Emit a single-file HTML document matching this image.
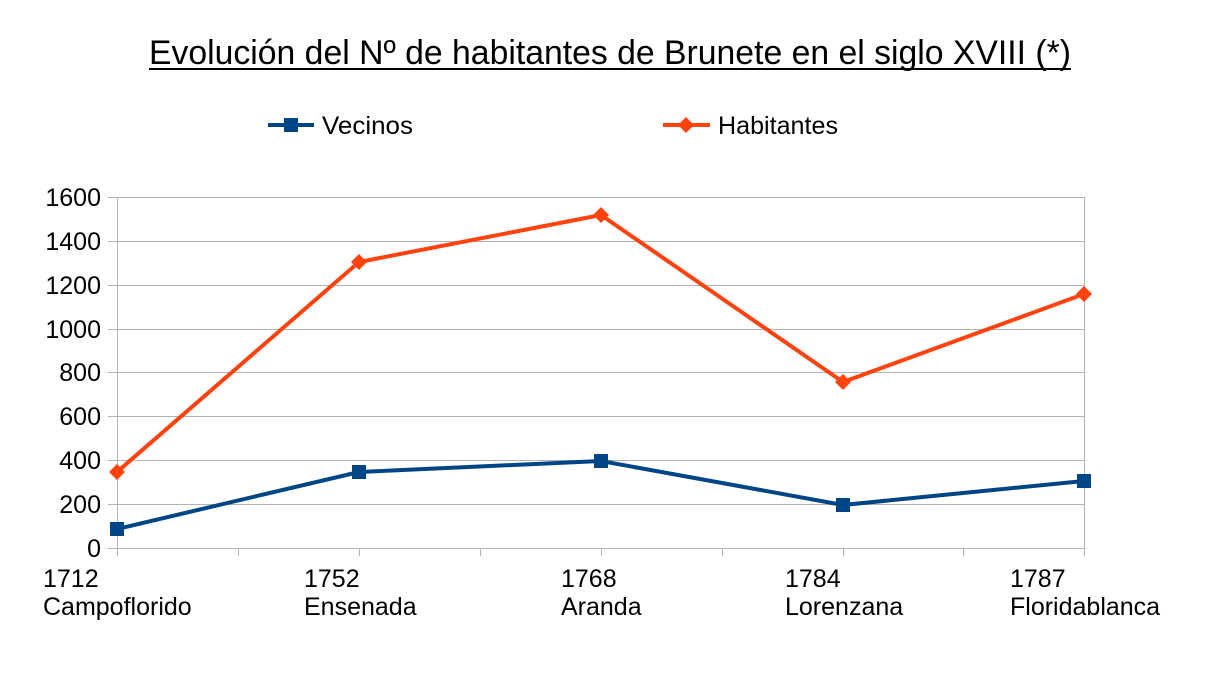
<!DOCTYPE html>
<html><head><meta charset="utf-8"><style>
body{margin:0;background:#fff;}
svg{display:block;font-family:"Liberation Sans",sans-serif;}
</style></head><body>
<svg width="1218" height="679" viewBox="0 0 1218 679">
<rect width="1218" height="679" fill="#fff"/>
<text x="149" y="64" font-size="34" textLength="922" lengthAdjust="spacingAndGlyphs" fill="#000">Evolución del Nº de habitantes de Brunete en el siglo XVIII (*)</text>
<line x1="149" y1="69" x2="1071" y2="69" stroke="#000" stroke-width="2"/>
<!-- legend -->
<line x1="268" y1="125" x2="314" y2="125" stroke="#004586" stroke-width="4"/>
<rect x="284" y="118" width="14" height="14" fill="#004586"/>
<text x="322" y="134" font-size="25" textLength="91" lengthAdjust="spacingAndGlyphs">Vecinos</text>
<line x1="663" y1="125" x2="710" y2="125" stroke="#ff420e" stroke-width="4"/>
<polygon points="686,117 694,125 686,133 678,125" fill="#ff420e"/>
<text x="718" y="134" font-size="25" textLength="120" lengthAdjust="spacingAndGlyphs">Habitantes</text>
<!-- grid -->
<g stroke="#b3b3b3" stroke-width="1">
<line x1="108" y1="197.5" x2="1084" y2="197.5"/>
<line x1="108" y1="241.5" x2="1084" y2="241.5"/>
<line x1="108" y1="285.5" x2="1084" y2="285.5"/>
<line x1="108" y1="329.5" x2="1084" y2="329.5"/>
<line x1="108" y1="372.5" x2="1084" y2="372.5"/>
<line x1="108" y1="416.5" x2="1084" y2="416.5"/>
<line x1="108" y1="460.5" x2="1084" y2="460.5"/>
<line x1="108" y1="504.5" x2="1084" y2="504.5"/>
<line x1="108" y1="548.5" x2="1084" y2="548.5"/>
<line x1="117.5" y1="197" x2="117.5" y2="556"/>
<line x1="1084.5" y1="197" x2="1084.5" y2="556"/>
<line x1="238.5" y1="548" x2="238.5" y2="556"/>
<line x1="359.5" y1="548" x2="359.5" y2="556"/>
<line x1="480.5" y1="548" x2="480.5" y2="556"/>
<line x1="601.5" y1="548" x2="601.5" y2="556"/>
<line x1="722.5" y1="548" x2="722.5" y2="556"/>
<line x1="843.5" y1="548" x2="843.5" y2="556"/>
<line x1="963.5" y1="548" x2="963.5" y2="556"/>
</g>
<g font-size="25" text-anchor="end">
<text x="101" y="206">1600</text>
<text x="101" y="250">1400</text>
<text x="101" y="294">1200</text>
<text x="101" y="338">1000</text>
<text x="101" y="381">800</text>
<text x="101" y="425">600</text>
<text x="101" y="469">400</text>
<text x="101" y="513">200</text>
<text x="101" y="557">0</text>
</g>
<g font-size="25">
<text x="43" y="587">1712</text><text x="43" y="615">Campoflorido</text>
<text x="304" y="587">1752</text><text x="304" y="615">Ensenada</text>
<text x="561" y="587">1768</text><text x="561" y="615">Aranda</text>
<text x="785" y="587">1784</text><text x="785" y="615">Lorenzana</text>
<text x="1010" y="587">1787</text><text x="1010" y="615">Floridablanca</text>
</g>
<polyline points="117,472 359,262 601,215 843,382 1084,294" fill="none" stroke="#ff420e" stroke-width="4" stroke-linejoin="round"/>
<g fill="#ff420e">
<polygon points="117,464 125,472 117,480 109,472"/>
<polygon points="359,254 367,262 359,270 351,262"/>
<polygon points="601,207 609,215 601,223 593,215"/>
<polygon points="843,374 851,382 843,390 835,382"/>
<polygon points="1084,286 1092,294 1084,302 1076,294"/>
</g>
<polyline points="117,529 359,472 601,461 843,505 1084,481" fill="none" stroke="#004586" stroke-width="4" stroke-linejoin="round"/>
<g fill="#004586">
<rect x="110" y="522" width="14" height="14"/>
<rect x="352" y="465" width="14" height="14"/>
<rect x="594" y="454" width="14" height="14"/>
<rect x="836" y="498" width="14" height="14"/>
<rect x="1077" y="474" width="14" height="14"/>
</g>
</svg>
</body></html>
